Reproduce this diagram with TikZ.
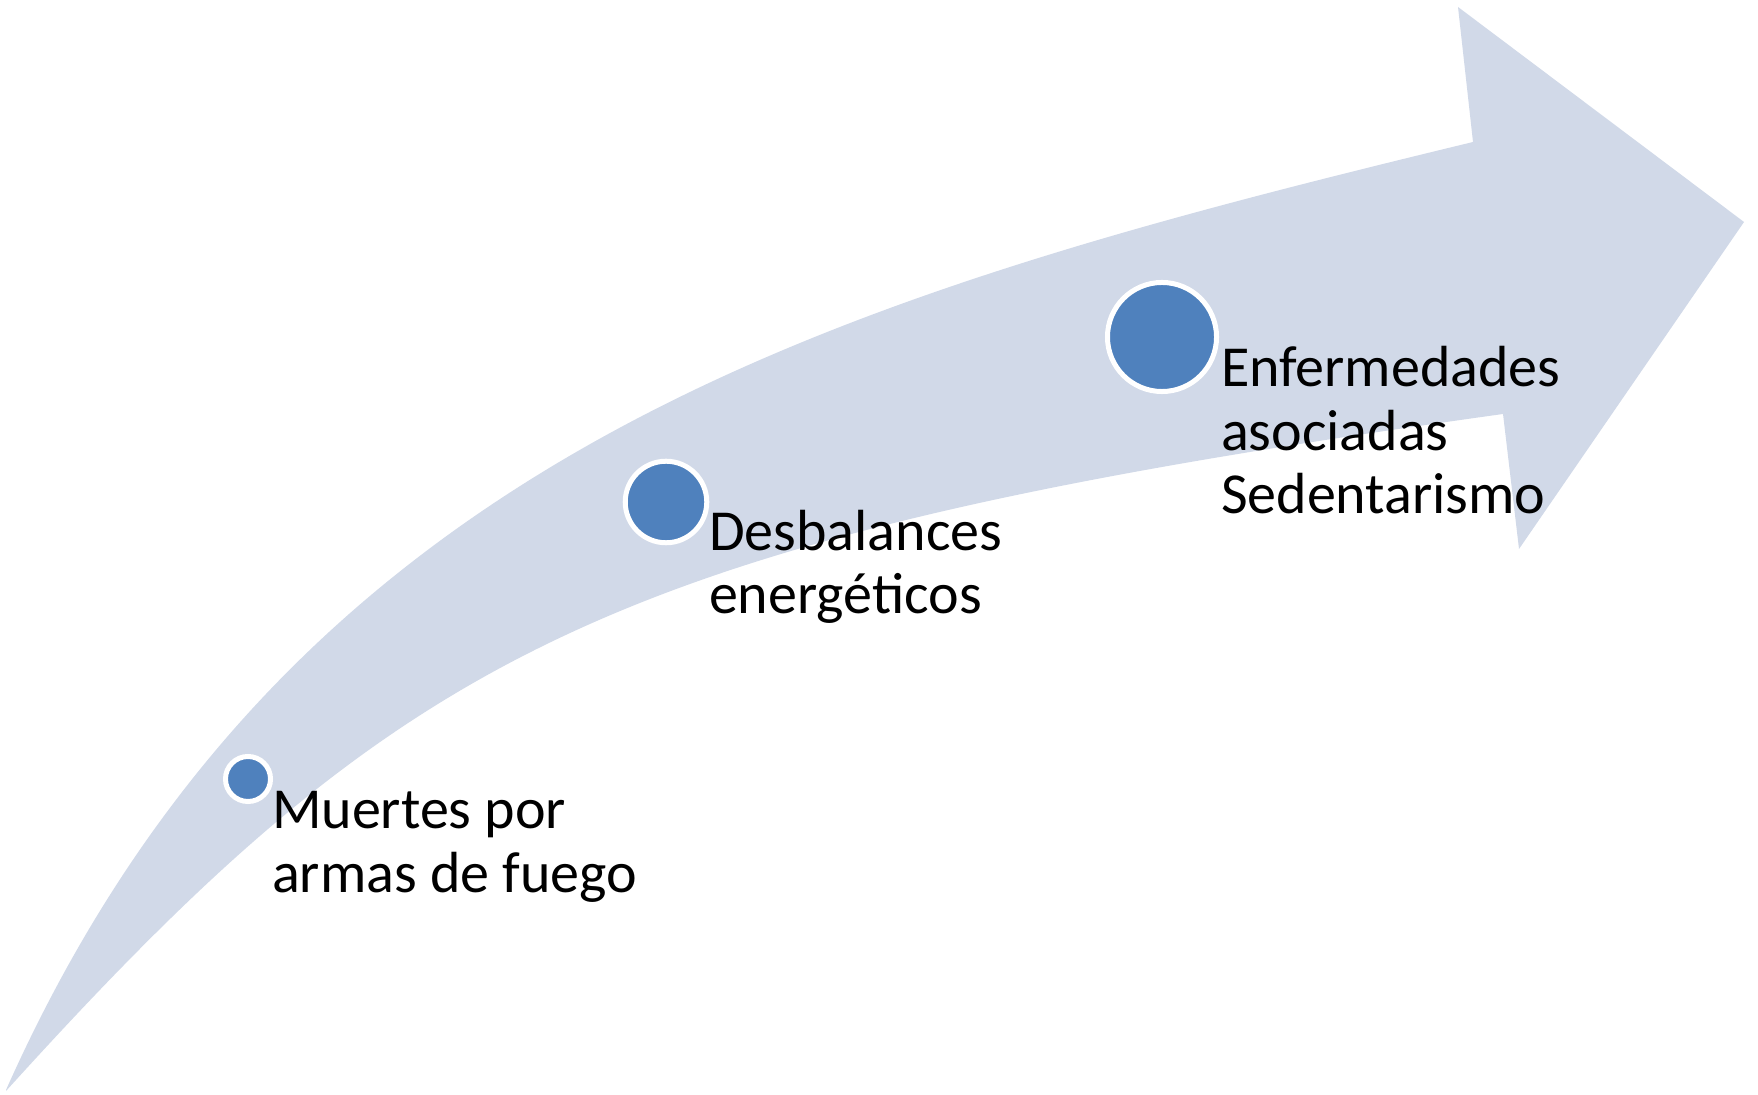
\documentclass[tikz,border=0pt]{standalone}
\usepackage{fontspec}
\setmainfont{Carlito}
\definecolor{arrowfill}{RGB}{209,217,232}
\definecolor{dotblue}{RGB}{79,129,189}
\tikzset{
  dot/.style={circle, fill=dotblue, draw=white, line width=0.05cm, inner sep=0pt},
  label text/.style={anchor=base west, align=left, inner sep=0pt, outer sep=0pt,
    font=\fontsize{16.5pt}{18.1pt}\selectfont, text=black}
}
\begin{document}
\begin{tikzpicture}[x=0.01cm, y=-0.01cm]
\useasboundingbox (0,0) rectangle (1758,1095);
% curved arrow body and head
\fill[arrowfill]
  (6,1090) .. controls (291,450) and (841,295) .. (1473,142)
  -- (1458,7) -- (1744,222) -- (1519,549) -- (1503,414)
  .. controls (612,538) and (408,647) .. (6,1091)
  -- cycle;
% dots
\node[dot, minimum size=0.45cm] (d1) at (248,779) {};
\node[dot, minimum size=0.815cm] (d2) at (666,502) {};
\node[dot, minimum size=1.09cm] (d3) at (1162,337) {};
% labels (anchored at the baseline of the last line)
\node[label text] (t1) at (272,892) {Muertes por\\armas de fuego};
\node[label text] (t2) at (709,614) {Desbalances\\energéticos};
\node[label text] (t3) at (1221,514) {Enfermedades\\asociadas\\Sedentarismo};
\end{tikzpicture}
\end{document}
